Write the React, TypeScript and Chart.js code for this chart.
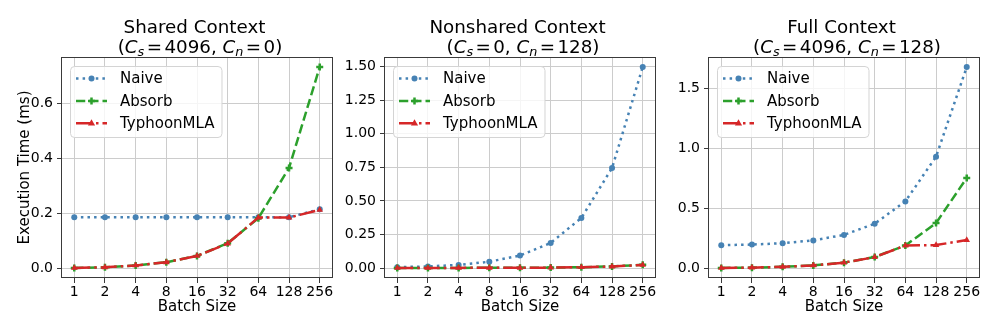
import React, { useEffect, useRef } from "react";
import { Chart, registerables } from "chart.js";

Chart.register(...registerables);

const batchSizes = [1, 2, 4, 8, 16, 32, 64, 128, 256];
const seriesLabels = ["Naive", "Absorb", "TyphoonMLA"];

const sharedNaive = [0.186, 0.186, 0.186, 0.186, 0.186, 0.186, 0.186, 0.186, 0.215];
const sharedAbsorb = [0.0023, 0.0046, 0.0115, 0.023, 0.046, 0.092, 0.183, 0.365, 0.731];
const sharedTyphoon = [0.0023, 0.0046, 0.0115, 0.023, 0.046, 0.091, 0.185, 0.185, 0.213];
const sharedTicks = [0, 0.2, 0.4, 0.6];

const nonsharedNaive = [0.006, 0.012, 0.023, 0.047, 0.093, 0.187, 0.373, 0.745, 1.497];
const nonsharedAbsorb = [0.0005, 0.0007, 0.001, 0.0015, 0.002, 0.003, 0.006, 0.012, 0.024];
const nonsharedTyphoon = [0.0005, 0.0007, 0.001, 0.0015, 0.002, 0.003, 0.006, 0.011, 0.023];
const nonsharedTicks = [0, 0.25, 0.5, 0.75, 1.0, 1.25, 1.5];

const fullNaive = [0.193, 0.198, 0.209, 0.233, 0.279, 0.372, 0.559, 0.933, 1.682];
const fullAbsorb = [0.0025, 0.0049, 0.0118, 0.024, 0.047, 0.094, 0.19, 0.378, 0.755];
const fullTyphoon = [0.0025, 0.0049, 0.0118, 0.024, 0.047, 0.093, 0.19, 0.194, 0.236];
const fullTicks = [0, 0.5, 1.0, 1.5];

const FONT = "'DejaVu Sans', sans-serif";
const BLUE = "#4682B4";
const GREEN = "#2ca02c";
const RED = "#d62728";
const GRID = "#cccccc";
const SPINE = "#3a3a3a";

const DASH_NAIVE = [2.5, 4.1];
const DASH_ABSORB = [9.25, 4];
const DASH_TYPHOON = [16, 4, 2.5, 4];

type PanelCfg = {
  left: number;
  width: number;
  yWidth: number;
  padRight: number;
  padLeft: number;
  title: string;
  cs: string;
  cn: string;
  naive: number[];
  absorb: number[];
  typhoon: number[];
  ticks: number[];
  dec: number;
  yTitle: boolean;
};

const panels: PanelCfg[] = [
  { left: 0, width: 340, padLeft: 0, yWidth: 62, padRight: 8, title: "Shared Context", cs: "4096", cn: "0",
    naive: sharedNaive, absorb: sharedAbsorb, typhoon: sharedTyphoon, ticks: sharedTicks, dec: 1, yTitle: true },
  { left: 340, width: 328, padLeft: 0, yWidth: 45, padRight: 13, title: "Nonshared Context", cs: "0", cn: "128",
    naive: nonsharedNaive, absorb: nonsharedAbsorb, typhoon: nonsharedTyphoon, ticks: nonsharedTicks, dec: 2, yTitle: false },
  { left: 668, width: 328, padLeft: 0, yWidth: 41, padRight: 17, title: "Full Context", cs: "4096", cn: "128",
    naive: fullNaive, absorb: fullAbsorb, typhoon: fullTyphoon, ticks: fullTicks, dec: 1, yTitle: false },
];

function drawMarker(ctx: CanvasRenderingContext2D, kind: number, x: number, y: number, color: string) {
  ctx.save();
  ctx.setLineDash([]);
  ctx.fillStyle = color;
  ctx.strokeStyle = color;
  if (kind === 0) {
    ctx.beginPath();
    ctx.arc(x, y, 3, 0, Math.PI * 2);
    ctx.fill();
  } else if (kind === 1) {
    ctx.lineWidth = 2.5;
    ctx.beginPath();
    ctx.moveTo(x - 3.5, y);
    ctx.lineTo(x + 3.5, y);
    ctx.moveTo(x, y - 3.5);
    ctx.lineTo(x, y + 3.5);
    ctx.stroke();
  } else {
    ctx.beginPath();
    ctx.moveTo(x, y - 4);
    ctx.lineTo(x - 3.6, y + 2.2);
    ctx.lineTo(x + 3.6, y + 2.2);
    ctx.closePath();
    ctx.fill();
  }
  ctx.restore();
}

function drawTitle(ctx: CanvasRenderingContext2D, cx: number, p: PanelCfg) {
  const size = 18.3;
  const sub = size * 0.7;
  ctx.save();
  ctx.fillStyle = "#000";
  ctx.textBaseline = "alphabetic";
  ctx.textAlign = "center";
  ctx.font = `${size}px ${FONT}`;
  ctx.fillText(p.title, cx - 2.5, 33);
  ctx.textAlign = "left";
  const normal = `${size}px ${FONT}`;
  const italic = `italic ${size}px ${FONT}`;
  const subIt = `italic ${sub}px ${FONT}`;
  const relGap = 2.4;
  const segs = [
    { t: "(", f: normal, dy: 0, g: 0 },
    { t: "C", f: italic, dy: 0, g: 0 },
    { t: "s", f: subIt, dy: 3.2, g: 0 },
    { t: "=", f: normal, dy: 0, g: relGap },
    { t: p.cs, f: normal, dy: 0, g: 0 },
    { t: ", ", f: normal, dy: 0, g: 0 },
    { t: "C", f: italic, dy: 0, g: 0 },
    { t: "n", f: subIt, dy: 3.2, g: 0 },
    { t: "=", f: normal, dy: 0, g: relGap },
    { t: p.cn, f: normal, dy: 0, g: 0 },
    { t: ")", f: normal, dy: 0, g: 0 },
  ];
  let total = 0;
  const widths = segs.map((s) => {
    ctx.font = s.f;
    const w = ctx.measureText(s.t).width + 2 * s.g;
    total += w;
    return w;
  });
  let x = cx + 3 - total / 2;
  segs.forEach((s, i) => {
    ctx.font = s.f;
    ctx.fillText(s.t, x + s.g, 53 + s.dy);
    x += widths[i];
  });
  ctx.restore();
}

function drawLegend(ctx: CanvasRenderingContext2D, area: any) {
  const x0 = Math.round(area.left) + 8;
  const y0 = Math.round(area.top) + 9;
  ctx.save();
  ctx.font = `15px ${FONT}`;
  const tw = Math.max(...seriesLabels.map((l) => ctx.measureText(l).width));
  const w = 50 + tw + 7;
  const h = 71;
  ctx.beginPath();
  ctx.roundRect(x0 + 0.5, y0 + 0.5, w, h, 4);
  ctx.fillStyle = "rgba(255,255,255,0.8)";
  ctx.fill();
  ctx.strokeStyle = "#d4d4d4";
  ctx.lineWidth = 1;
  ctx.stroke();
  const colors = [BLUE, GREEN, RED];
  const dashes = [DASH_NAIVE, DASH_ABSORB, DASH_TYPHOON];
  seriesLabels.forEach((label, i) => {
    const y = y0 + 12.5 + 22.4 * i;
    ctx.save();
    ctx.strokeStyle = colors[i];
    ctx.lineWidth = 2.5;
    ctx.setLineDash(dashes[i]);
    ctx.lineCap = "butt";
    ctx.beginPath();
    ctx.moveTo(x0 + 6, y);
    ctx.lineTo(x0 + 37, y);
    ctx.stroke();
    ctx.restore();
    drawMarker(ctx, i, x0 + 21.5, y, colors[i]);
    ctx.fillStyle = "#000";
    ctx.textBaseline = "middle";
    ctx.textAlign = "left";
    ctx.fillText(label, x0 + 50, y + 1);
  });
  ctx.restore();
}

function buildConfig(p: PanelCfg): any {
  const all = [...p.naive, ...p.absorb, ...p.typhoon];
  const dmin = Math.min(...all);
  const dmax = Math.max(...all);
  const margin = (dmax - dmin) * 0.05;
  const toPts = (arr: number[]) => arr.map((y, i) => ({ x: i, y }));
  const framePlugin = {
    id: "frame" + p.left,
    afterDraw(chart: any) {
      const ctx = chart.ctx as CanvasRenderingContext2D;
      const a = chart.chartArea;
      ctx.save();
      ctx.strokeStyle = SPINE;
      ctx.lineWidth = 1;
      ctx.setLineDash([]);
      ctx.strokeRect(Math.round(a.left) - 0.5, Math.round(a.top) + 0.5, Math.round(a.right - a.left) + 1, Math.round(a.bottom - a.top) - 1);
      ctx.restore();
      drawLegend(ctx, a);
      drawTitle(ctx, (a.left + a.right) / 2, p);
    },
  };
  return {
    type: "line",
    data: {
      datasets: [
        {
          label: seriesLabels[0], data: toPts(p.naive), borderColor: BLUE, backgroundColor: BLUE,
          borderWidth: 2.5, borderDash: DASH_NAIVE, borderCapStyle: "butt", pointStyle: "circle",
          pointRadius: 3, pointBorderWidth: 0, pointBackgroundColor: BLUE, order: 3, tension: 0, fill: false,
        },
        {
          label: seriesLabels[1], data: toPts(p.absorb), borderColor: GREEN, backgroundColor: GREEN,
          borderWidth: 2.5, borderDash: DASH_ABSORB, borderCapStyle: "butt", pointStyle: "cross",
          pointRadius: 3.5, pointBorderWidth: 2.5, pointBorderColor: GREEN, order: 2, tension: 0, fill: false,
        },
        {
          label: seriesLabels[2], data: toPts(p.typhoon), borderColor: RED, backgroundColor: RED,
          borderWidth: 2.5, borderDash: DASH_TYPHOON, borderCapStyle: "butt", pointStyle: "triangle",
          pointRadius: 3.8, pointBorderWidth: 0, pointBackgroundColor: RED, order: 1, tension: 0, fill: false,
        },
      ],
    },
    options: {
      animation: false,
      responsive: false,
      maintainAspectRatio: false,
      events: [],
      layout: { padding: { top: 57, right: p.padRight, bottom: 16, left: p.padLeft } },
      plugins: { legend: { display: false }, tooltip: { enabled: false }, title: { display: false } },
      scales: {
        x: {
          type: "linear",
          min: -0.4,
          max: 8.4,
          afterBuildTicks: (s: any) => {
            s.ticks = batchSizes.map((_, i) => ({ value: i }));
          },
          afterFit: (s: any) => {
            s.height = 38;
          },
          ticks: {
            autoSkip: false, maxRotation: 0, minRotation: 0, color: "#000", padding: 1,
            font: { family: FONT, size: 14 },
            callback: (v: any) => String(batchSizes[Math.round(v)]),
          },
          grid: { color: GRID, lineWidth: 1, tickColor: SPINE, tickLength: 5, drawTicks: true },
          border: { display: false },
          title: { display: true, text: "Batch Size", color: "#000", font: { family: FONT, size: 15 }, padding: { top: 0, bottom: 0 } },
        },
        y: {
          type: "linear",
          min: dmin - margin,
          max: dmax + margin,
          afterBuildTicks: (s: any) => {
            s.ticks = p.ticks.map((v) => ({ value: v }));
          },
          afterFit: (s: any) => {
            s.width = p.yWidth;
          },
          ticks: {
            autoSkip: false, color: "#000", padding: 4,
            font: { family: FONT, size: 14 },
            callback: (v: any) => Number(v).toFixed(p.dec),
          },
          grid: { color: GRID, lineWidth: 1, tickColor: SPINE, tickLength: 5, drawTicks: true },
          border: { display: false },
          title: {
            display: p.yTitle, text: "Execution Time (ms)", color: "#000",
            font: { family: FONT, size: 15 }, padding: { top: 16, bottom: 0 },
          },
        },
      },
    },
    plugins: [framePlugin],
  };
}

function Panel({ cfg }: { cfg: PanelCfg }) {
  const ref = useRef<HTMLCanvasElement>(null);
  useEffect(() => {
    const chart = new Chart(ref.current as HTMLCanvasElement, buildConfig(cfg));
    return () => chart.destroy();
  }, [cfg]);
  return (
    <canvas
      ref={ref}
      width={cfg.width}
      height={332}
      style={{ position: "absolute", left: cfg.left, top: 0, width: cfg.width, height: 332 }}
    />
  );
}

export default function App() {
  return (
    <div style={{ position: "absolute", left: 0, top: 0, width: 996, height: 332, background: "#fff", overflow: "hidden" }}>
      {panels.map((p) => (
        <Panel key={p.left} cfg={p} />
      ))}
    </div>
  );
}
